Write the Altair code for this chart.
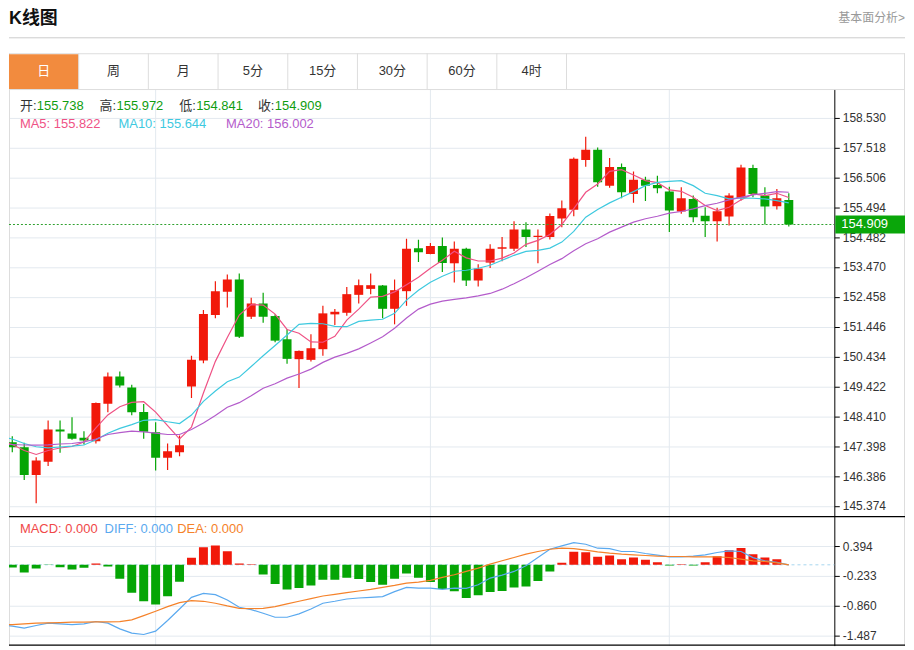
import altair as alt
import pandas as pd

# ---------------- data ----------------
tabs = ["日", "周", "月", "5分", "15分", "30分", "60分", "4时"]

days = list(range(1, 67))
opens = [147.533, 147.364, 146.420, 146.872, 147.961, 147.827, 147.681, 147.567, 148.838, 149.759,
         149.388, 148.559, 147.870, 147.007, 147.196, 149.422, 150.299, 151.841, 152.627, 153.045,
         151.783, 152.235, 151.807, 151.021, 150.346, 150.323, 150.684, 151.864, 151.918, 152.526,
         152.728, 152.843, 152.053, 152.650, 154.101, 153.909, 154.178, 153.595, 154.091, 153.011,
         153.618, 154.091, 154.091, 154.742, 154.489, 154.482, 155.113, 155.410, 157.096, 157.440,
         156.226, 156.857, 155.946, 156.428, 156.250, 156.024, 155.349, 155.777, 155.204, 155.022,
         155.180, 155.811, 156.823, 155.889, 155.528, 155.738]
highs = [147.735, 147.513, 147.027, 148.265, 148.265, 148.376, 147.904, 148.882, 149.894, 149.928,
         149.479, 148.828, 148.208, 147.489, 147.759, 150.458, 152.009, 152.988, 153.214, 153.247,
         152.424, 152.593, 151.864, 151.358, 150.640, 151.190, 152.154, 152.043, 152.795, 153.045,
         153.247, 152.860, 153.045, 154.428, 154.394, 154.280, 154.472, 154.337, 154.125, 153.561,
         154.236, 154.482, 155.022, 154.988, 154.742, 155.282, 155.720, 157.177, 157.879, 157.518,
         157.164, 156.978, 156.708, 156.530, 156.563, 156.192, 156.169, 155.889, 155.494, 155.474,
         155.966, 156.934, 156.934, 156.169, 156.115, 155.972]
lows = [147.196, 146.251, 145.465, 146.723, 147.175, 147.620, 147.455, 147.489, 148.545, 149.388,
        148.444, 147.648, 146.578, 146.589, 147.061, 149.031, 150.211, 151.729, 152.100, 151.065,
        151.706, 151.581, 150.920, 150.188, 149.368, 150.265, 150.458, 151.503, 151.817, 152.235,
        152.549, 151.729, 151.527, 152.154, 153.639, 153.900, 153.301, 152.944, 152.829, 152.809,
        153.436, 153.662, 154.010, 154.145, 153.595, 154.404, 154.819, 155.190, 156.867, 156.192,
        156.158, 155.798, 155.642, 155.703, 155.966, 154.651, 155.271, 154.988, 154.482, 154.337,
        154.877, 155.720, 155.831, 154.910, 155.416, 154.841]
closes = [147.364, 146.420, 146.916, 147.961, 147.894, 147.648, 147.590, 148.862, 149.759, 149.456,
          148.545, 147.884, 147.007, 147.229, 147.432, 150.323, 151.874, 152.650, 153.045, 151.109,
          152.235, 151.783, 150.974, 150.357, 150.626, 150.717, 151.898, 151.952, 152.549, 152.853,
          152.853, 152.053, 152.684, 154.091, 153.966, 154.178, 153.605, 154.091, 153.011, 153.416,
          154.091, 154.135, 154.742, 154.482, 154.529, 155.197, 155.460, 157.137, 157.440, 156.337,
          156.857, 156.000, 156.428, 156.226, 156.135, 155.383, 155.798, 155.157, 155.022, 155.359,
          155.889, 156.843, 155.946, 155.518, 155.798, 154.909]

line_days = list(range(0, 67))
ma5 = [147.590, 147.455, 147.253, 147.118, 147.253, 147.337, 147.388, 147.540, 148.019, 148.457,
       148.737, 148.882, 148.906, 148.552, 148.096, 147.648, 148.046, 149.199, 150.272, 151.082,
       151.841, 152.195, 152.178, 151.874, 151.352, 151.223, 150.930, 150.920, 151.122, 151.672,
       152.043, 152.448, 152.472, 152.627, 152.870, 153.123, 153.426, 153.696, 154.000, 153.780,
       153.672, 153.672, 153.770, 153.942, 154.236, 154.371, 154.573, 154.910, 155.450, 156.000,
       156.283, 156.708, 156.766, 156.587, 156.395, 156.327, 156.081, 156.034, 155.831, 155.551,
       155.383, 155.494, 155.744, 155.946, 155.889, 155.966, 155.822]
ma10 = [147.725, 147.641, 147.489, 147.378, 147.344, 147.371, 147.398, 147.439, 147.614, 147.837,
        148.002, 148.130, 148.275, 148.299, 148.225, 148.164, 148.451, 148.916, 149.270, 149.581,
        149.739, 150.097, 150.464, 150.812, 151.166, 151.527, 151.561, 151.547, 151.460, 151.446,
        151.628, 151.672, 151.699, 151.898, 152.347, 152.684, 152.954, 153.156, 153.325, 153.359,
        153.426, 153.527, 153.696, 153.865, 154.000, 154.033, 154.111, 154.313, 154.674, 155.157,
        155.416, 155.642, 155.831, 156.024, 156.226, 156.337, 156.371, 156.395, 156.226, 155.966,
        155.889, 155.777, 155.811, 155.798, 155.777, 155.720, 155.644]
ma20 = [147.455, 147.455, 147.439, 147.432, 147.445, 147.472, 147.489, 147.546, 147.641, 147.793,
        147.860, 147.911, 147.884, 147.843, 147.793, 147.793, 147.961, 148.187, 148.434, 148.720,
        148.872, 149.108, 149.361, 149.513, 149.705, 149.844, 150.009, 150.238, 150.417, 150.542,
        150.694, 150.896, 151.109, 151.392, 151.740, 152.043, 152.212, 152.313, 152.374, 152.421,
        152.492, 152.573, 152.718, 152.903, 153.106, 153.325, 153.551, 153.753, 154.023, 154.259,
        154.428, 154.651, 154.819, 154.988, 155.103, 155.190, 155.292, 155.349, 155.440, 155.551,
        155.629, 155.744, 155.831, 155.912, 155.966, 156.024, 156.002]

macd_hist = [-0.056, -0.160, -0.077, -0.005, -0.049, -0.098, -0.063, 0.028, -0.035, -0.293,
             -0.585, -0.766, -0.836, -0.662, -0.355, 0.146, 0.369, 0.404, 0.286, 0.028,
             0.014, -0.202, -0.404, -0.516, -0.488, -0.432, -0.314, -0.314, -0.272, -0.300,
             -0.362, -0.418, -0.293, -0.181, -0.272, -0.362, -0.509, -0.557, -0.697, -0.641,
             -0.571, -0.550, -0.474, -0.453, -0.341, -0.139, 0.042, 0.272, 0.265, 0.167,
             0.195, 0.118, 0.153, 0.105, 0.056, -0.014, 0.014, -0.014, 0.056, 0.181,
             0.306, 0.355, 0.223, 0.153, 0.118, 0.000]
diff = [-1.250, -1.289, -1.331, -1.275, -1.226, -1.240, -1.254, -1.240, -1.191, -1.226,
        -1.345, -1.435, -1.463, -1.393, -1.170, -0.927, -0.683, -0.599, -0.627, -0.738,
        -0.892, -0.941, -1.017, -1.101, -1.101, -1.031, -0.927, -0.808, -0.766, -0.718,
        -0.697, -0.683, -0.669, -0.564, -0.474, -0.488, -0.488, -0.516, -0.488, -0.495,
        -0.418, -0.279, -0.216, -0.139, -0.021, 0.153, 0.327, 0.397, 0.467, 0.432,
        0.348, 0.341, 0.279, 0.279, 0.237, 0.202, 0.167, 0.167, 0.181, 0.209,
        0.258, 0.293, 0.279, 0.150, 0.084, 0.049, 0.000]
dea = [-1.254, -1.254, -1.240, -1.226, -1.219, -1.212, -1.205, -1.205, -1.198, -1.198,
       -1.191, -1.156, -1.066, -0.975, -0.878, -0.794, -0.752, -0.766, -0.808, -0.864,
       -0.913, -0.920, -0.913, -0.878, -0.822, -0.766, -0.711, -0.655, -0.620, -0.585,
       -0.550, -0.516, -0.474, -0.432, -0.383, -0.362, -0.327, -0.265, -0.209, -0.139,
       -0.070, 0.014, 0.084, 0.153, 0.223, 0.279, 0.327, 0.348, 0.341, 0.307,
       0.272, 0.244, 0.223, 0.209, 0.195, 0.181, 0.174, 0.174, 0.167, 0.167,
       0.167, 0.153, 0.118, 0.084, 0.070, 0.042, 0.000]

price_ticks = [145.374, 146.386, 147.398, 148.410, 149.422, 150.434, 151.446,
               152.458, 153.470, 154.482, 155.494, 156.506, 157.518, 158.530]
macd_ticks = [0.394, -0.233, -0.860, -1.487]
grid_days = [13, 36, 56]

# ---------------- style ----------------
FONT = "Liberation Sans, Noto Sans CJK SC, sans-serif"
RED = "#f1190a"
GREEN = "#05a505"
TAG_GREEN = "#0aa60a"
GRID = "#e3e9ef"
C_MA5 = "#ef5285"
C_MA10 = "#3ec9df"
C_MA20 = "#b45ccb"
C_DIFF = "#5aa9ef"
C_DEA = "#f5822a"
C_MACD = "#f04848"
ORANGE = "#f28b3e"
VAL_GREEN = "#0f9d0f"

W = 829
FULL = 900
H_MAIN = 429
H_MACD = 130

xs = alt.Scale(domain=[0.725, 69.81], padding=0, nice=False, zero=False)
ys = alt.Scale(domain=[145.027, 159.498], nice=False, zero=False)
ms = alt.Scale(domain=[-1.696, 1.021], nice=False, zero=False)

ax_main = alt.Axis(orient="right", values=price_ticks, format=".3f", title=None, grid=True,
                   gridColor=GRID, domainColor="#000", tickColor="#000", tickSize=5,
                   labelFontSize=12, labelColor="#333", labelPadding=3, zindex=0)
ax_macd = alt.Axis(orient="right", values=macd_ticks, title=None, grid=True,
                   labelExpr="replace(format(datum.value, '.3f'), '−', '-')",
                   gridColor=GRID, domainColor="#000", tickColor="#000", tickSize=5,
                   labelFontSize=12, labelColor="#333", labelPadding=3, zindex=0)


def X(f):
    return alt.X(f, scale=xs, axis=None)


def Y(f):
    return alt.Y(f, scale=ys, axis=ax_main)


def YM(f):
    return alt.Y(f, scale=ms, axis=ax_macd)


one = pd.DataFrame({"a": [0]})
dir_color = alt.Color("dir:N", scale=alt.Scale(domain=["up", "down"], range=[RED, GREEN]), legend=None)


def hline(y, x1, x2, color, width=1.0):
    return alt.Chart(one).mark_rule(color=color, strokeWidth=width).encode(
        x=alt.value(x1), x2=alt.value(x2), y=alt.value(y))


def vline(x, y1, y2, color, width=1.0):
    return alt.Chart(one).mark_rule(color=color, strokeWidth=width).encode(
        x=alt.value(x), y=alt.value(y1), y2=alt.value(y2))


def label(txt, x, y, color, size=13, weight="normal", align="left"):
    return alt.Chart(one).mark_text(text=txt, color=color, fontSize=size, fontWeight=weight,
                                    align=align, baseline="middle").encode(
        x=alt.value(x), y=alt.value(y))


# ---------------- header ----------------
tdf = pd.DataFrame({"i": list(range(len(tabs))), "label": tabs})
tx = alt.Scale(domain=[0, FULL / 70.0], padding=0, nice=False, zero=False)

sel = alt.Chart(tdf).transform_filter("datum.i == 0").transform_calculate(
    i1="datum.i + 1").mark_rect(color=ORANGE).encode(
    x=alt.X("i:Q", scale=tx, axis=None), x2="i1:Q", y=alt.value(45), y2=alt.value(80))
dividers = alt.Chart(tdf).transform_calculate(i1="datum.i + 1").mark_rule(color="#dddddd").encode(
    x=alt.X("i1:Q", scale=tx, axis=None), y=alt.value(44), y2=alt.value(80))
tab_text = alt.Chart(tdf).transform_calculate(
    c="datum.i + 0.5", col="datum.i == 0 ? 'white' : '#333333'").mark_text(
    fontSize=13, baseline="middle").encode(
    x=alt.X("c:Q", scale=tx, axis=None), y=alt.value(62), text="label:N",
    color=alt.Color("col:N", scale=None))

header = alt.layer(
    label("K线图", 0, 10, "#111111", size=18, weight="bold"),
    label("基本面分析>", FULL, 9, "#999999", size=12, align="right"),
    hline(28.5, 0, FULL, "#cccccc"),
    hline(44.5, 0, FULL, "#dddddd"),
    vline(0.5, 44, 80, "#dddddd"),
    vline(FULL - 0.5, 44, 80, "#dddddd"),
    sel, dividers, tab_text,
).properties(width=FULL, height=80)

# ---------------- main panel ----------------
cdf = pd.DataFrame({"i": days, "open": opens, "high": highs, "low": lows, "close": closes})
cdf["dir"] = ["up" if c >= o else "down" for o, c in zip(opens, closes)]
madf = pd.DataFrame({"i": line_days, "ma5": ma5, "ma10": ma10, "ma20": ma20})
last = pd.DataFrame({"p": [closes[-1]], "t": [f"{closes[-1]:.3f}"]})

vgrid = alt.Chart(pd.DataFrame({"i": grid_days})).mark_rule(color=GRID).encode(x=X("i:Q"))
wicks = alt.Chart(cdf).mark_rule(strokeWidth=1.2, clip=True).encode(
    x=X("i:Q"), y=Y("low:Q"), y2="high:Q", color=dir_color)
bodies = alt.Chart(cdf).mark_bar(size=9, clip=True).encode(
    x=X("i:Q"), y=Y("open:Q"), y2="close:Q", color=dir_color)
l5 = alt.Chart(madf).mark_line(color=C_MA5, strokeWidth=1.2, clip=True).encode(x=X("i:Q"), y=Y("ma5:Q"))
l10 = alt.Chart(madf).mark_line(color=C_MA10, strokeWidth=1.2, clip=True).encode(x=X("i:Q"), y=Y("ma10:Q"))
l20 = alt.Chart(madf).mark_line(color=C_MA20, strokeWidth=1.2, clip=True).encode(x=X("i:Q"), y=Y("ma20:Q"))
pline = alt.Chart(last).mark_rule(color="#2ea02e", strokeDash=[2, 2]).encode(
    y=Y("p:Q"), x=alt.value(0), x2=alt.value(W))
ptag = alt.Chart(last).mark_rect(color=TAG_GREEN, yOffset=-9, y2Offset=9).encode(
    y=Y("p:Q"), y2="p:Q", x=alt.value(W + 1), x2=alt.value(FULL))
ptext = alt.Chart(last).mark_text(align="left", baseline="middle", color="white", fontSize=13).encode(
    y=Y("p:Q"), x=alt.value(W + 7), text="t:N")

legend_main = [
    label("开:", 11, 17, "#333333"), label(f"{opens[-1]:.3f}", 28, 17, VAL_GREEN),
    label("高:", 91, 17, "#333333"), label(f"{highs[-1]:.3f}", 108, 17, VAL_GREEN),
    label("低:", 171, 17, "#333333"), label(f"{lows[-1]:.3f}", 188, 17, VAL_GREEN),
    label("收:", 250, 17, "#333333"), label(f"{closes[-1]:.3f}", 267, 17, VAL_GREEN),
    label(f"MA5: {ma5[-1]:.3f}", 11, 35, C_MA5),
    label(f"MA10: {ma10[-1]:.3f}", 110, 35, C_MA10),
    label(f"MA20: {ma20[-1]:.3f}", 218, 35, C_MA20),
]

main = alt.layer(
    vgrid,
    hline(0.5, 0, FULL, "#dddddd"),
    vline(0.5, 0, H_MAIN, "#dddddd"),
    vline(FULL - 0.5, 0, H_MAIN, "#dddddd"),
    wicks, bodies, l5, l10, l20, pline, ptag, ptext,
    *legend_main,
).properties(width=W, height=H_MAIN)

# ---------------- MACD panel ----------------
hdf = pd.DataFrame({"i": days, "h": macd_hist, "z": [0.0] * len(days)})
hdf["dir"] = ["up" if v > 0 else "down" for v in macd_hist]
mdf = pd.DataFrame({"i": line_days, "diff": diff, "dea": dea})

vgrid2 = alt.Chart(pd.DataFrame({"i": grid_days})).mark_rule(color=GRID).encode(x=X("i:Q"))
zero = alt.Chart(pd.DataFrame({"z": [0.0]})).mark_rule(color="#a6d6ef", strokeDash=[3, 3]).encode(
    y=YM("z:Q"), x=alt.value(0), x2=alt.value(W))
bars = alt.Chart(hdf).mark_bar(size=9, clip=True).encode(
    x=X("i:Q"), y=YM("h:Q"), y2="z:Q", color=dir_color)
ldiff = alt.Chart(mdf).mark_line(color=C_DIFF, strokeWidth=1.2, clip=True).encode(x=X("i:Q"), y=YM("diff:Q"))
ldea = alt.Chart(mdf).mark_line(color=C_DEA, strokeWidth=1.2, clip=True).encode(x=X("i:Q"), y=YM("dea:Q"))

legend_macd = [
    label(f"MACD: {macd_hist[-1]:.3f}", 11, 13, C_MACD),
    label(f"DIFF: {diff[-1]:.3f}", 96, 13, C_DIFF),
    label(f"DEA: {dea[-1]:.3f}", 169, 13, C_DEA),
]

macd = alt.layer(
    vgrid2,
    vline(0.5, 0, H_MACD, "#dddddd"),
    vline(FULL - 0.5, 0, H_MACD, "#dddddd"),
    zero, bars, ldiff, ldea,
    hline(0.5, 0, FULL, "#000000", 1.2),
    hline(H_MACD - 0.5, 0, FULL, "#000000", 1.2),
    *legend_macd,
).properties(width=W, height=H_MACD)

chart = alt.vconcat(header, main, macd, spacing=0, bounds="flush").properties(
    padding=0
).configure(font=FONT).configure_view(stroke=None)

chart.save("out.html", embed_options={"renderer": "svg", "actions": False})
